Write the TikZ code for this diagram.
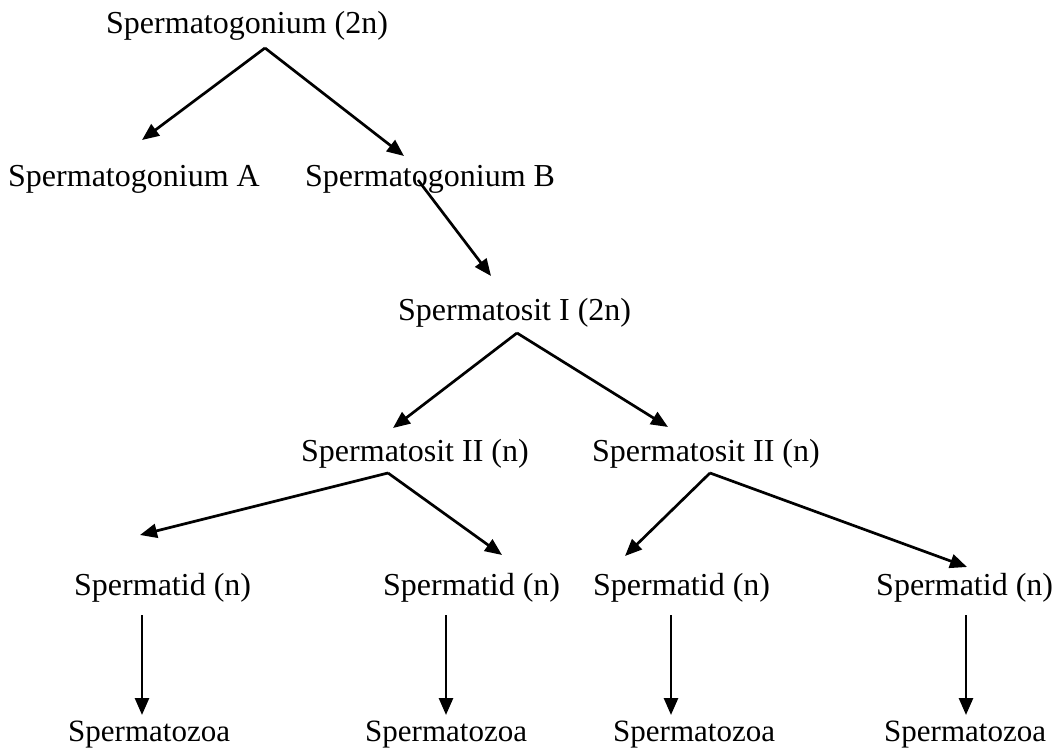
\documentclass[tikz,border=0pt]{standalone}
\usepackage{fontspec}
\setmainfont{Liberation Serif}
\usetikzlibrary{arrows.meta,calc}
\tikzset{
  lbl/.style={inner sep=0pt, anchor=base west, font=\fontsize{32}{38}\selectfont},
  lblz/.style={inner sep=0pt, anchor=base west, font=\fontsize{31}{37}\selectfont},
  arr/.style={line width=2.7pt, -{Triangle[length=17pt,width=14pt]}}
}
\begin{document}
\begin{tikzpicture}[x=1pt,y=-1pt]
\useasboundingbox (0,0) rectangle (1061,749);
% nodes
\node[lbl] (sg) at (106,34) {Spermatogonium (2n)};
\node[lbl] (sgA) at (8,186) {Spermatogonium A};
\node[lbl] (sgB) at (305,186) {Spermatogonium B};
\node[lbl] (st1) at (398,320) {Spermatosit I (2n)};
\node[lbl] (st2a) at (301,461) {Spermatosit II (n)};
\node[lbl] (st2b) at (592,461) {Spermatosit II (n)};
\node[lbl] (sd1) at (74,595) {Spermatid (n)};
\node[lbl] (sd2) at (383,595) {Spermatid (n)};
\node[lbl] (sd3) at (593,595) {Spermatid (n)};
\node[lbl] (sd4) at (876,595) {Spermatid (n)};
\node[lblz] (sz1) at (68,741) {Spermatozoa};
\node[lblz] (sz2) at (365,741) {Spermatozoa};
\node[lblz] (sz3) at (613,741) {Spermatozoa};
\node[lblz] (sz4) at (884,741) {Spermatozoa};
% connectors
\draw[arr] ($(sg.base west)+(159,14)$) -- ($(sgA.base west)+(134,-46)$);
\draw[arr] ($(sg.base west)+(159,14)$) -- ($(sgB.base west)+(99,-30)$);
\draw[arr] ($(sgB.base west)+(113,-6)$) -- ($(st1.base west)+(93,-44)$);
\draw[arr] ($(st1.base west)+(119,13)$) -- ($(st2a.base west)+(92,-33)$);
\draw[arr] ($(st1.base west)+(119,13)$) -- ($(st2b.base west)+(76,-34)$);
\draw[arr] ($(st2a.base west)+(87,12)$) -- ($(sd1.base west)+(66,-60)$);
\draw[arr] ($(st2a.base west)+(87,12)$) -- ($(sd2.base west)+(119,-40)$);
\draw[arr] ($(st2b.base west)+(118,12)$) -- ($(sd3.base west)+(32,-39)$);
\draw[arr] ($(st2b.base west)+(118,12)$) -- ($(sd4.base west)+(91,-28)$);
\draw[arr] ($(sd1.base west)+(68,20)$) -- ($(sz1.base west)+(74,-26)$);
\draw[arr] ($(sd2.base west)+(63,20)$) -- ($(sz2.base west)+(81,-26)$);
\draw[arr] ($(sd3.base west)+(78,20)$) -- ($(sz3.base west)+(58,-26)$);
\draw[arr] ($(sd4.base west)+(90,20)$) -- ($(sz4.base west)+(82,-26)$);
\end{tikzpicture}
\end{document}
